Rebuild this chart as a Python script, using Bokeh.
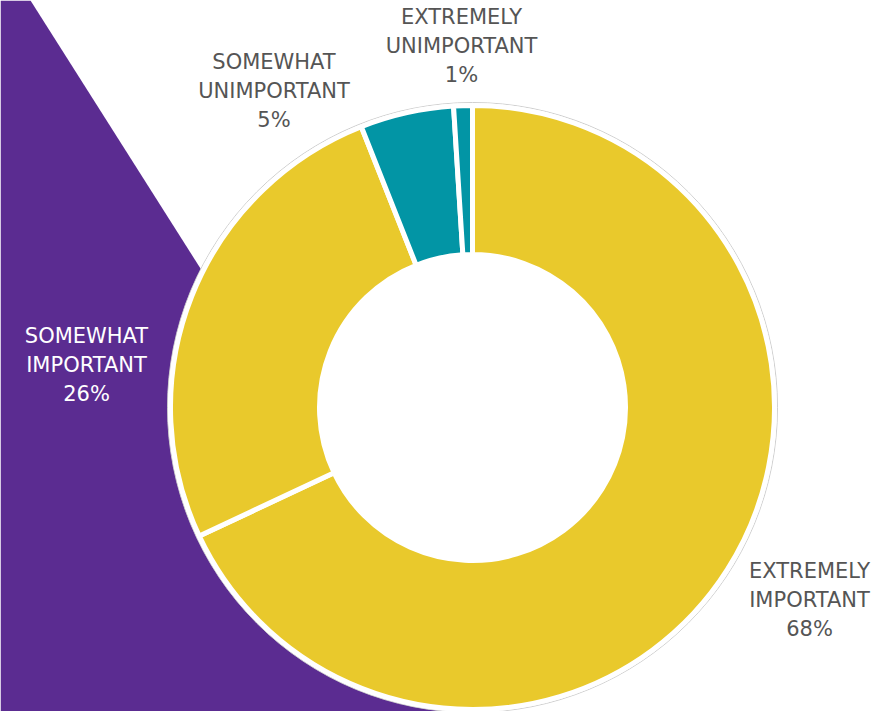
import math
from bokeh.plotting import figure
from bokeh.models import Range1d, ColumnDataSource
from bokeh.core.properties import value
from bokeh.embed import file_html
from bokeh.resources import INLINE

# ---- data ----
categories = ["EXTREMELY IMPORTANT", "SOMEWHAT IMPORTANT", "SOMEWHAT UNIMPORTANT", "EXTREMELY UNIMPORTANT"]
values = [68, 26, 5, 1]
colors = ["#E9C92C", "#E9C92C", "#0295A5", "#0295A5"]

W, H = 882, 711
p = figure(width=W, height=H, output_backend="svg", toolbar_location=None,
           x_axis_type=None, y_axis_type=None, min_border=0,
           x_range=Range1d(0, W), y_range=Range1d(0, H))
p.outline_line_color = None
p.grid.visible = False
p.background_fill_color = "white"
p.border_fill_color = "white"

def sy(y):
    return H - y

# purple background shape
p.patch(x=[0, 30, 481, 0], y=[sy(0), sy(0), sy(711), sy(711)],
        fill_color="#5B2C91", line_color=None)

# donut
cx, cy = 472, sy(407)
r_out, r_in = 302, 153
total = sum(values)
starts, ends = [], []
cum = 0
for v in values:
    starts.append(math.pi / 2 - 2 * math.pi * cum / total)
    cum += v
    ends.append(math.pi / 2 - 2 * math.pi * cum / total)

src = ColumnDataSource(dict(start=starts, end=ends, color=colors))
p.circle(x=[cx], y=[cy], radius=r_out + 3, fill_color="white",
         line_color="#cfcfcf", line_width=1)
p.annular_wedge(x=cx, y=cy, inner_radius=r_in, outer_radius=r_out,
                start_angle="start", end_angle="end", direction="clock",
                fill_color="color", line_color="white", line_width=5, source=src)

# labels
label_pos = {
    "EXTREMELY IMPORTANT": (809, 570.5, "#555555"),
    "SOMEWHAT IMPORTANT": (86, 335.5, "#FFFFFF"),
    "SOMEWHAT UNIMPORTANT": (273.5, 61, "#555555"),
    "EXTREMELY UNIMPORTANT": (461, 16.3, "#555555"),
}
tx, ty, tt, tc = [], [], [], []
step = 29
for cat, v in zip(categories, values):
    x0, y0, c = label_pos[cat]
    lines = cat.split(" ") + [f"{v}%"]
    for i, ln in enumerate(lines):
        tx.append(x0)
        ty.append(sy(y0 + i * step))
        tt.append(ln)
        tc.append(c)

p.text(x=tx, y=ty, text=tt, text_color=tc, text_align="center",
       text_baseline="middle", text_font=value("DejaVu Sans"),
       text_font_size="21px")

open("out.html", "w").write(file_html(p, INLINE))
